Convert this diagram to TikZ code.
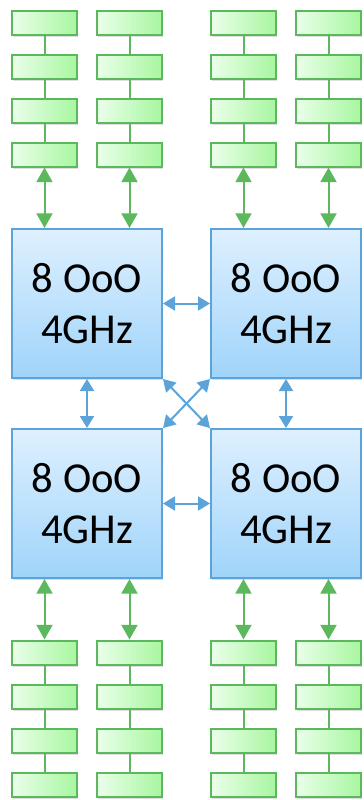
\documentclass[tikz,border=0pt]{standalone}
\usepackage{fontspec}
\setmainfont{Carlito}
\usepackage{tikz}
\usetikzlibrary{calc}
\usetikzlibrary{positioning}
\usetikzlibrary{arrows.meta}
\usetikzlibrary{shadows}

\definecolor{memline}{RGB}{92,184,92}
\definecolor{memleft}{RGB}{234,255,234}
\definecolor{memright}{RGB}{168,246,160}
\definecolor{coreline}{RGB}{91,163,217}
\definecolor{coretop}{RGB}{222,240,255}
\definecolor{corebot}{RGB}{160,212,250}

\begin{document}
\begin{tikzpicture}[%
  x=0.75pt, y=-0.75pt,
  >={Triangle[length=11pt,width=12pt]},
  mem/.style={draw=memline, line width=1.5pt, left color=memleft, right color=memright,
    minimum width=48.75pt, minimum height=18pt, inner sep=0pt,
    drop shadow={opacity=0.25, shadow xshift=1pt, shadow yshift=-1.5pt}},
  core/.style={draw=coreline, line width=1.5pt, top color=coretop, bottom color=corebot,
    minimum width=112.5pt, minimum height=111.75pt, inner sep=0pt, align=center,
    font=\fontsize{32}{38.5}\selectfont,
    drop shadow={opacity=0.25, shadow xshift=1pt, shadow yshift=-1.5pt}},
  chain/.style={draw=memline, line width=1.5pt},
  memlink/.style={draw=memline, line width=1.5pt, <->},
  corelink/.style={draw=coreline, line width=1.5pt, <->, >={Triangle[length=9pt,width=10.5pt]}},
]

  \useasboundingbox (0,0) rectangle (364,800);

  % cores
  \node[core] (c0) at (87,303.5)  {8 OoO\\4GHz};
  \node[core] (c1) at (286,303.5) {8 OoO\\4GHz};
  \node[core] (c2) at (87,503.5)  {8 OoO\\4GHz};
  \node[core] (c3) at (286,503.5) {8 OoO\\4GHz};

  % memory, top
  \node[mem] (a0) at (44.5,23)    {};
  \node[mem] (a1) at (44.5,66.5)  {};
  \node[mem] (a2) at (44.5,110.5) {};
  \node[mem] (a3) at (44.5,154.5) {};
  \node[mem] (b0) at (129.5,23)    {};
  \node[mem] (b1) at (129.5,66.5)  {};
  \node[mem] (b2) at (129.5,110.5) {};
  \node[mem] (b3) at (129.5,154.5) {};
  \node[mem] (d0) at (243.5,23)    {};
  \node[mem] (d1) at (243.5,66.5)  {};
  \node[mem] (d2) at (243.5,110.5) {};
  \node[mem] (d3) at (243.5,154.5) {};
  \node[mem] (f0) at (328.5,23)    {};
  \node[mem] (f1) at (328.5,66.5)  {};
  \node[mem] (f2) at (328.5,110.5) {};
  \node[mem] (f3) at (328.5,154.5) {};

  % memory, bottom
  \node[mem] (p0) at (44.5,652.5) {};
  \node[mem] (p1) at (44.5,696.5) {};
  \node[mem] (p2) at (44.5,740.5) {};
  \node[mem] (p3) at (44.5,784.5) {};
  \node[mem] (q0) at (129.5,652.5) {};
  \node[mem] (q1) at (129.5,696.5) {};
  \node[mem] (q2) at (129.5,740.5) {};
  \node[mem] (q3) at (129.5,784.5) {};
  \node[mem] (r0) at (243.5,652.5) {};
  \node[mem] (r1) at (243.5,696.5) {};
  \node[mem] (r2) at (243.5,740.5) {};
  \node[mem] (r3) at (243.5,784.5) {};
  \node[mem] (s0) at (328.5,652.5) {};
  \node[mem] (s1) at (328.5,696.5) {};
  \node[mem] (s2) at (328.5,740.5) {};
  \node[mem] (s3) at (328.5,784.5) {};

  \draw[chain] (a0.south) -- (a1.north) (a1.south) -- (a2.north) (a2.south) -- (a3.north);
  \draw[chain] (b0.south) -- (b1.north) (b1.south) -- (b2.north) (b2.south) -- (b3.north);
  \draw[chain] (d0.south) -- (d1.north) (d1.south) -- (d2.north) (d2.south) -- (d3.north);
  \draw[chain] (f0.south) -- (f1.north) (f1.south) -- (f2.north) (f2.south) -- (f3.north);
  \draw[chain] (p0.south) -- (p1.north) (p1.south) -- (p2.north) (p2.south) -- (p3.north);
  \draw[chain] (q0.south) -- (q1.north) (q1.south) -- (q2.north) (q2.south) -- (q3.north);
  \draw[chain] (r0.south) -- (r1.north) (r1.south) -- (r2.north) (r2.south) -- (r3.north);
  \draw[chain] (s0.south) -- (s1.north) (s1.south) -- (s2.north) (s2.south) -- (s3.north);

  % memory to cores
  \draw[memlink] (a3.south) -- (a3.south |- c0.north);
  \draw[memlink] (b3.south) -- (b3.south |- c0.north);
  \draw[memlink] (d3.south) -- (d3.south |- c1.north);
  \draw[memlink] (f3.south) -- (f3.south |- c1.north);
  \draw[memlink] (p0.north) -- (p0.north |- c2.south);
  \draw[memlink] (q0.north) -- (q0.north |- c2.south);
  \draw[memlink] (r0.north) -- (r0.north |- c3.south);
  \draw[memlink] (s0.north) -- (s0.north |- c3.south);

  % cores to cores
  \draw[corelink] (c0.east) -- (c1.west);
  \draw[corelink] (c2.east) -- (c3.west);
  \draw[corelink] (c0.south) -- (c2.north);
  \draw[corelink] (c1.south) -- (c3.north);
  \draw[corelink] (c0.south east) -- (c3.north west);
  \draw[corelink] (c1.south west) -- (c2.north east);

\end{tikzpicture}
\end{document}
